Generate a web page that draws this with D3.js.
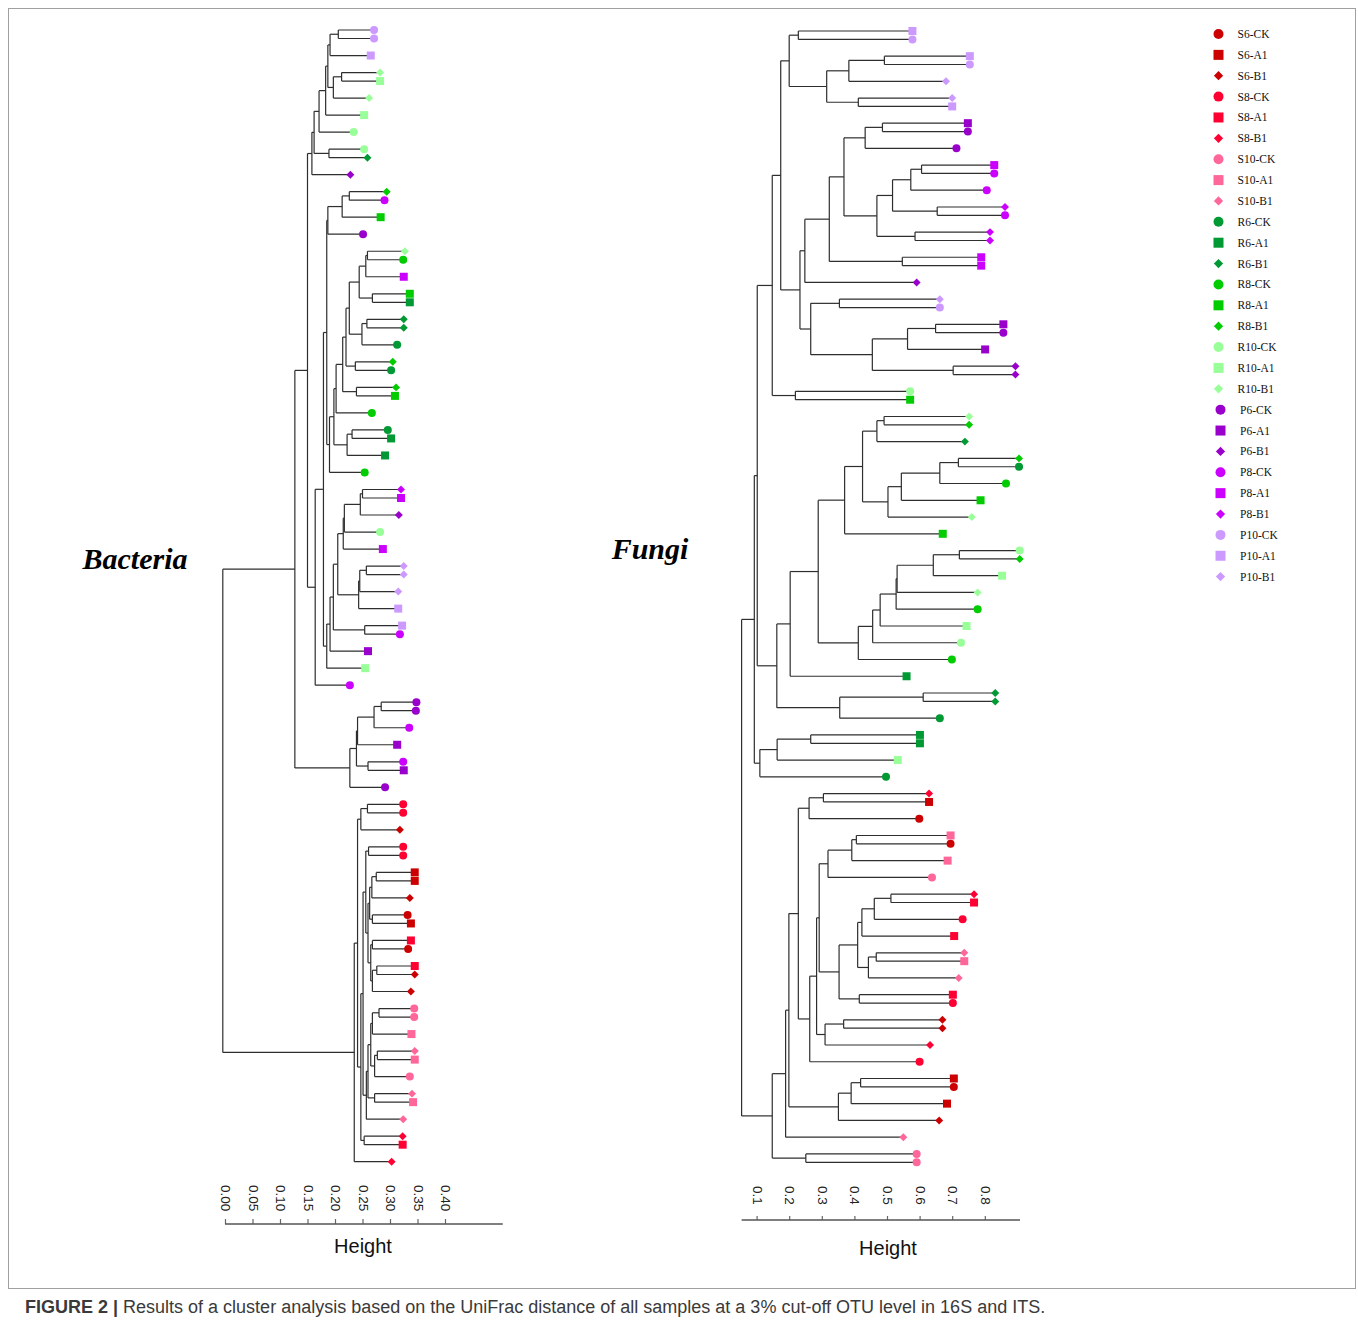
<!DOCTYPE html>
<html>
<head>
<meta charset="utf-8">
<script src="https://cdn.jsdelivr.net/npm/d3@7"></script>
<style>
  body { margin: 0; background: #fff; }
  svg { display: block; }
</style>
</head>
<body>
<svg id="fig" width="1358" height="1323"></svg>
<script>
// ---- Sample groups (legend order) ----
const sites = ["S6", "S8", "S10", "R6", "R8", "R10", "P6", "P8", "P10"];
const treatments = ["CK", "A1", "B1"];
const siteColors = ["#CC0000", "#FF0033", "#FF6699", "#009933", "#00CC00", "#99FF99", "#9900CC", "#CC00FF", "#CC99FF"];
const treatmentShapes = ["circle", "square", "diamond"];

// ---- Bacteria (16S) clustering, Newick; the number after ':' is the node's position on the Height axis ----
const bacTop = "(((((((P10-CK:0.271,P10-CK:0.271):0.206,P10-A1:0.265):0.191,((R10-B1:0.282,R10-A1:0.282):0.212,R10-B1:0.262):0.197):0.187,R10-A1:0.253):0.183,R10-CK:0.234):0.171,(R10-CK:0.253,R6-B1:0.259):0.189):0.162,P6-B1:0.228):0.158";
const bacT1 = "(((R8-B1:0.294,P8-CK:0.290):0.226,R8-A1:0.283):0.213,P6-CK:0.251):0.187";
const bacG3 = "(((R10-B1:0.327,R8-CK:0.324):0.259,P8-A1:0.325):0.256,(R8-A1:0.336,R6-A1:0.336):0.268):0.244";
const bacG4 = "((R6-B1:0.325,R6-B1:0.325):0.258,R6-CK:0.313):0.249";
const bacG7 = "((R6-CK:0.296,R6-A1:0.302):0.231,R6-A1:0.291):0.222";
const bacGreen = `((((((${bacG3},${bacG4}):0.226,(R8-B1:0.305,R6-CK:0.302):0.237):0.220,(R8-B1:0.311,R8-A1:0.309):0.239):0.214,R8-CK:0.267):0.202,${bacG7}):0.198,R8-CK:0.254):0.190`;
const bacM1 = "((P8-B1:0.320,P8-A1:0.320):0.250,P6-B1:0.316):0.246";
const bacM4 = "(((P10-B1:0.325,P10-B1:0.325):0.257,P10-B1:0.315):0.245,P10-A1:0.315):0.243";
const bacMixed = `((((((${bacM1},R10-CK:0.282):0.217,P8-A1:0.287):0.215,${bacM4}):0.205,(P10-A1:0.322,P8-CK:0.318):0.254):0.197,P6-A1:0.260):0.191,R10-A1:0.255):0.185`;
const bacP1 = "(((P6-CK:0.348,P6-CK:0.347):0.284,P8-CK:0.335):0.271,P6-A1:0.313):0.241";
const bacPP = `((${bacP1},(P8-CK:0.324,P6-A1:0.325):0.260):0.239,P6-CK:0.291):0.227`;
const bacUpper = `((${bacTop},(((${bacT1},${bacGreen}):0.185,${bacMixed}):0.179,P8-CK:0.227):0.164):0.150,${bacPP}):0.127`;
const bacS1 = "((S8-CK:0.324,S8-CK:0.324):0.259,S6-B1:0.318):0.247";
const bacR4 = "(((S6-A1:0.345,S6-A1:0.345):0.275,S6-B1:0.336):0.267,(S6-CK:0.332,S6-A1:0.338):0.268):0.263";
const bacR8 = "((S8-A1:0.338,S6-CK:0.333):0.268,((S8-A1:0.345,S6-B1:0.345):0.276,S6-B1:0.338):0.268):0.265";
const bacRed = `((S8-CK:0.324,S8-CK:0.324):0.261,(${bacR4},${bacR8}):0.260):0.256`;
const bacP5 = "(((S10-CK:0.344,S10-CK:0.344):0.280,S10-A1:0.339):0.268,((S10-B1:0.345,S10-A1:0.345):0.277,S10-CK:0.336):0.272):0.265";
const bacPink = `((${bacP5},(S10-B1:0.340,S10-A1:0.342):0.272):0.260,S10-B1:0.324):0.257`;
const bacLower = `((${bacS1},((${bacRed},${bacPink}):0.251,(S8-B1:0.323,S8-A1:0.323):0.253):0.247):0.241,S8-B1:0.303):0.235`;
const bacteriaNewick = `(${bacUpper},${bacLower}):-0.004`;

// ---- Fungi (ITS) clustering ----
const funTop = "((P10-A1:0.578,P10-CK:0.578):0.228,(((P10-A1:0.754,P10-CK:0.754):0.492,P10-B1:0.681):0.383,(P10-B1:0.700,P10-A1:0.700):0.412):0.315):0.200";
const funQ1 = "((P6-A1:0.748,P6-CK:0.748):0.486,P6-CK:0.713):0.433";
const funQ4 = "((((P8-A1:0.829,P8-CK:0.829):0.606,P8-CK:0.806):0.573,(P8-B1:0.862,P8-CK:0.862):0.654):0.517,(P8-B1:0.816,P8-B1:0.816):0.586):0.469";
const funQ7 = `(((${funQ1},${funQ4}):0.368,(P8-A1:0.789,P8-A1:0.789):0.547):0.323,P6-B1:0.591):0.248`;
const funQ8 = "((P10-B1:0.662,P10-CK:0.662):0.354,(((P6-A1:0.857,P6-CK:0.857):0.649,P6-A1:0.801):0.563,(P6-B1:0.894,P6-B1:0.894):0.703):0.455):0.266";
const funPurple = `((${funTop},(${funQ7},${funQ8}):0.233):0.174,(R10-CK:0.571,R8-A1:0.571):0.219):0.148`;
const funH3 = "(((R10-B1:0.752,R8-B1:0.752):0.491,R6-B1:0.739):0.469,((((R8-B1:0.905,R6-CK:0.905):0.719,R8-CK:0.865):0.662,R8-A1:0.787):0.544,R10-B1:0.760):0.503):0.425";
const funK1 = "((R10-CK:0.907,R8-B1:0.907):0.722,R10-A1:0.853):0.642";
const funK6 = `(((((${funK1},R10-B1:0.778):0.531,R8-CK:0.778):0.528,R10-A1:0.744):0.479,R10-CK:0.727):0.456,R8-CK:0.699):0.412`;
const funH8 = "((R6-B1:0.832,R6-B1:0.832):0.611,R6-CK:0.662):0.355";
const funGreen = `((((${funH3},R8-A1:0.671):0.370,${funK6}):0.289,R6-A1:0.560):0.203,${funH8}):0.162`;
const funH10 = "(((R6-A1:0.601,R6-A1:0.601):0.266,R10-A1:0.533):0.163,R6-CK:0.497):0.110";
const funUpper = `((${funPurple},${funGreen}):0.102,${funH10}):0.093`;
const funR1 = "((S8-B1:0.629,S6-A1:0.629):0.305,S6-CK:0.599):0.261";
const funR2 = "(((S10-A1:0.695,S6-CK:0.695):0.406,S10-A1:0.686):0.392,S10-CK:0.638):0.319";
const funR3 = "(((S8-B1:0.767,S8-A1:0.767):0.512,S8-CK:0.732):0.461,S8-A1:0.706):0.423";
const funR4 = "((S10-B1:0.737,S10-A1:0.737):0.467,S10-B1:0.720):0.443";
const funR6 = `((${funR3},${funR4}):0.410,(S8-A1:0.702,S8-CK:0.702):0.415):0.353`;
const funR8 = "((S6-B1:0.670,S6-B1:0.670):0.367,S8-B1:0.632):0.310";
const funR10 = `(((${funR2},${funR6}):0.292,${funR8}):0.284,S8-CK:0.600):0.263`;
const funR12 = "(((S6-A1:0.705,S6-CK:0.705):0.419,S6-A1:0.684):0.390,S6-B1:0.660):0.351";
const funLower = `((((${funR1},${funR10}):0.228,${funR12}):0.199,S10-B1:0.550):0.189,(S10-CK:0.591,S10-CK:0.591):0.251):0.148`;
const fungiNewick = `(${funUpper},${funLower}):0.054`;

// ---- Axis ticks ----
const bacteriaTicks = [0, 0.05, 0.10, 0.15, 0.20, 0.25, 0.30, 0.35, 0.40];
const fungiTicks = [0.1, 0.2, 0.3, 0.4, 0.5, 0.6, 0.7, 0.8];
const bacteriaAxisExtent = [0, 0.505];
const fungiAxisExtent = [0.054, 0.908];

// ---- Newick reader ----
function parseNewick(s) {
  let i = 0;
  function node() {
    const n = {};
    if (s[i] === "(") {
      i++;
      n.children = [node()];
      while (s[i] === ",") { i++; n.children.push(node()); }
      i++; // closing paren
    }
    let start = i;
    while (i < s.length && !":,)".includes(s[i])) i++;
    n.name = s.slice(start, i);
    if (s[i] === ":") {
      i++; start = i;
      while (i < s.length && !",)".includes(s[i])) i++;
      n.h = +s.slice(start, i);
    }
    return n;
  }
  return node();
}

const svg = d3.select("#fig");
svg.append("rect").attr("width", 1358).attr("height", 1323).attr("fill", "#fff");

// figure frame
svg.append("rect")
  .attr("x", 8.5).attr("y", 8.5).attr("width", 1347).attr("height", 1280)
  .attr("fill", "none").attr("stroke", "#a0a0a0").attr("stroke-width", 1);

function markerPath(shape, s) {
  if (shape === "circle") return d3.symbol(d3.symbolCircle, Math.PI * s * s)();
  if (shape === "square") return `M${-s},${-s}H${s}V${s}H${-s}Z`;
  const d = s * 1.05;
  return `M0,${-d}L${d},0L0,${d}L${-d},0Z`;
}
function styleOf(name) {
  const k = name.lastIndexOf("-");
  const site = name.slice(0, k), trt = name.slice(k + 1);
  return { color: siteColors[sites.indexOf(site)], shape: treatmentShapes[treatments.indexOf(trt)] };
}

function drawTree(newick, xScale, yTop, yBottom) {
  const root = d3.hierarchy(parseNewick(newick));
  const leaves = root.leaves();
  // sister leaves sit one step apart, other neighbours two steps
  let u = 0;
  leaves.forEach((l, k) => {
    if (k > 0) u += (l.parent === leaves[k - 1].parent) ? 1 : 2;
    l.unit = u;
  });
  const yScale = d3.scaleLinear().domain([0, u]).range([yTop, yBottom]);
  root.eachAfter(n => {
    n.py = n.children ? (n.children[0].py + n.children[n.children.length - 1].py) / 2 : yScale(n.unit);
  });
  const g = svg.append("g");
  const lines = g.append("g").attr("fill", "none").attr("stroke", "#2e2e2e").attr("stroke-width", 1.2);
  root.descendants().forEach(n => {
    if (n.children) {
      const c = n.children;
      lines.append("path").attr("d", `M${xScale(n.data.h)},${c[0].py}V${c[c.length - 1].py}`);
    }
    if (n.parent) {
      lines.append("path").attr("d", `M${xScale(n.parent.data.h)},${n.py}H${xScale(n.data.h)}`);
    }
  });
  g.append("g").selectAll("path").data(leaves).join("path")
    .attr("transform", d => `translate(${xScale(d.data.h)},${d.py})`)
    .attr("d", d => markerPath(styleOf(d.data.name).shape, styleOf(d.data.name).shape === "diamond" ? 3.8 : 4))
    .attr("fill", d => styleOf(d.data.name).color);
}

function drawAxis(xScale, ticks, fmt, extent, yAxis, tickLen, labelOffset, titleX, titleY) {
  const g = svg.append("g").attr("transform", `translate(0,${yAxis})`);
  const axis = d3.axisTop(xScale).tickValues(ticks).tickFormat(d3.format(fmt)).tickSize(tickLen).tickSizeOuter(0);
  g.call(axis);
  g.select(".domain").remove();
  g.selectAll(".tick line").attr("stroke", "#666").attr("stroke-width", 1.2);
  g.selectAll(".tick text")
    .attr("x", 0).attr("y", 0).attr("dy", null)
    .attr("transform", `translate(0,${-labelOffset}) rotate(90)`)
    .attr("text-anchor", "start")
    .attr("dominant-baseline", "central")
    .attr("font-family", "Liberation Sans, Arial, sans-serif")
    .attr("font-size", 13.5)
    .attr("fill", "#222");
  g.append("line")
    .attr("x1", xScale(extent[0])).attr("x2", xScale(extent[1]))
    .attr("stroke", "#555").attr("stroke-width", 1.3);
  svg.append("text")
    .attr("x", titleX).attr("y", titleY)
    .attr("text-anchor", "middle")
    .attr("font-family", "Liberation Sans, Arial, sans-serif")
    .attr("font-size", 20).attr("fill", "#111")
    .text("Height");
}

// Bacteria panel
const xBac = d3.scaleLinear().domain([0, 1]).range([225, 775]);
drawTree(bacteriaNewick, xBac, 30, 1161.7);
drawAxis(xBac, bacteriaTicks, ".2f", bacteriaAxisExtent, 1224, 5, 39, 363, 1253);

// Fungi panel
const xFun = d3.scaleLinear().domain([0, 1]).range([724, 1050]);
drawTree(fungiNewick, xFun, 31, 1162.3);
drawAxis(xFun, fungiTicks, ".1f", fungiAxisExtent, 1220, 4, 34, 888, 1255);

// Panel titles
svg.append("text").attr("x", 135).attr("y", 569).attr("text-anchor", "middle")
  .attr("font-family", "Liberation Serif, Times New Roman, serif")
  .attr("font-style", "italic").attr("font-weight", "bold").attr("font-size", 30)
  .attr("fill", "#000").text("Bacteria");
svg.append("text").attr("x", 650).attr("y", 559).attr("text-anchor", "middle")
  .attr("font-family", "Liberation Serif, Times New Roman, serif")
  .attr("font-style", "italic").attr("font-weight", "bold").attr("font-size", 30)
  .attr("fill", "#000").text("Fungi");

// Legend
const legendItems = [];
sites.forEach((s, si) => treatments.forEach((t, ti) => legendItems.push({ label: `${s}-${t}`, color: siteColors[si], shape: treatmentShapes[ti], p: s[0] === "P" })));
const lg = svg.append("g");
legendItems.forEach((d, i) => {
  const y = 34 + i * 20.87;
  const mx = d.p ? 1220.5 : 1218.5;
  lg.append("path").attr("transform", `translate(${mx},${y})`)
    .attr("d", markerPath(d.shape, d.shape === "diamond" ? 4.4 : 5)).attr("fill", d.color);
  lg.append("text").attr("x", d.p ? 1240 : 1237.5).attr("y", y + 4)
    .attr("font-family", "Liberation Serif, Times New Roman, serif")
    .attr("font-size", 11.5).attr("fill", "#111").text(d.label);
});

// Caption
const cap = svg.append("text").attr("x", 25).attr("y", 1313)
  .attr("font-family", "Liberation Sans, Arial, sans-serif").attr("font-size", 18).attr("fill", "#3a3a3a");
cap.append("tspan").attr("font-weight", "bold").text("FIGURE 2 |");
cap.append("tspan").text(" Results of a cluster analysis based on the UniFrac distance of all samples at a 3% cut-off OTU level in 16S and ITS.");
</script>
</body>
</html>
